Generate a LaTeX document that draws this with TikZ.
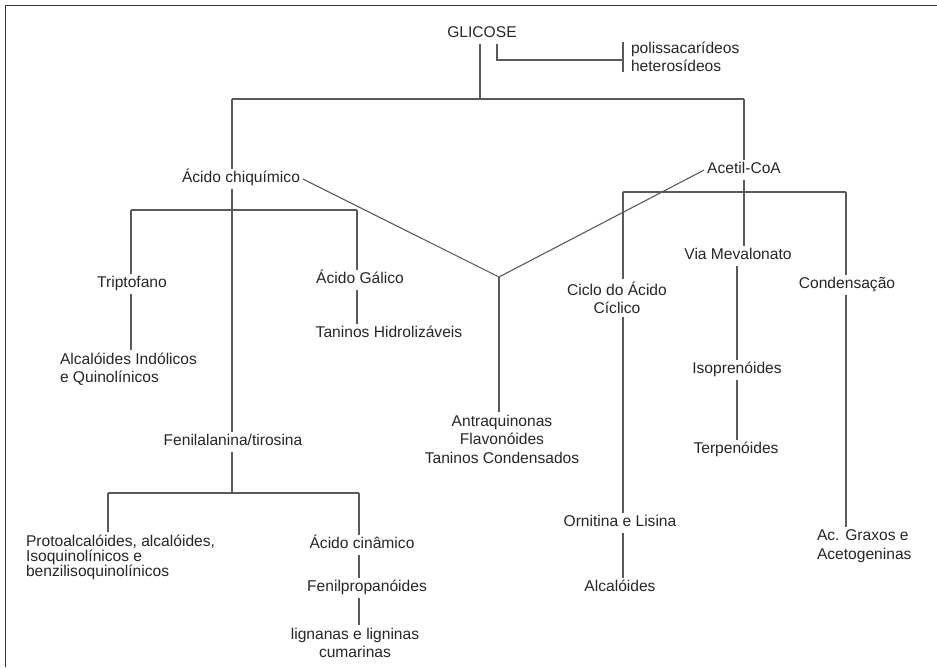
\documentclass[tikz,border=0pt]{standalone}
\usepackage{fontspec}
\setmainfont{Liberation Sans}
\definecolor{txt}{HTML}{262626}
\definecolor{ln}{HTML}{5A5A5A}
\definecolor{frm}{HTML}{3A3A3A}
\begin{document}
\begin{tikzpicture}[x=1pt,y=-1pt,
  lbl/.style={inner sep=0pt, outer sep=3pt, text=txt, yshift=-2pt,
    font=\fontsize{15.6}{18.5}\selectfont, text height=11pt, text depth=3.5pt},
  mlbl/.style={inner sep=0pt, outer sep=3pt, text=txt, yshift=-1pt,
    font=\fontsize{15.6}{18.5}\selectfont},
  conn/.style={draw=ln, line width=1.3pt},
  framel/.style={draw=frm, line width=1.5pt}]
\useasboundingbox (0,0) rectangle (937,667);
\draw[framel] (937,5.5) -- (5.5,5.5) -- (5.5,667);

% nodes
\node[lbl] (glic) at (482,32) {GLICOSE};
\node[mlbl, anchor=west, align=left, outer sep=0pt] (poli) at (631,56) {polissacarídeos\\heterosídeos};
\node[lbl] (chiq) at (241,177) {Ácido chiquímico};
\node[lbl] (acet) at (744,168) {Acetil-CoA};
\node[lbl] (tri) at (132,282) {Triptofano};
\node[mlbl, anchor=west, align=left] (alcind) at (57,368) {Alcalóides Indólicos\\e Quinolínicos};
\node[lbl] (gal) at (360,278) {Ácido Gálico};
\node[lbl] (tanh) at (389,332) {Taninos Hidrolizáveis};
\node[lbl] (fen) at (233,440) {Fenilalanina/tirosina};
\node[mlbl, anchor=west, align=left, font=\fontsize{15.6}{15}\selectfont] (proto) at (23,556) {Protoalcalóides, alcalóides,\\Isoquinolínicos e\\benzilisoquinolínicos};
\node[lbl] (cin) at (362,543) {Ácido cinâmico};
\node[lbl] (fenp) at (367,586) {Fenilpropanóides};
\node[mlbl, align=center] (lig) at (355,642) {lignanas e ligninas\\cumarinas};
\node[mlbl, align=center] (antra) at (502,438) {Antraquinonas\\Flavonóides\\Taninos Condensados};
\node[mlbl, align=center] (ciclo) at (617,297) {Ciclo do Ácido\\Cíclico};
\node[lbl] (orn) at (620,521) {Ornitina e Lisina};
\node[lbl] (alc) at (620,586) {Alcalóides};
\node[lbl] (via) at (738,254) {Via Mevalonato};
\node[lbl] (iso) at (737,368) {Isoprenóides};
\node[lbl] (terp) at (736,448) {Terpenóides};
\node[lbl] (cond) at (847,283) {Condensação};
\node[mlbl, anchor=west, align=left] (graxos) at (814,545) {Ac. Graxos e\\Acetogeninas};

% coordinates
\coordinate (tl) at (232,99);
\coordinate (tr) at (744,99);
\coordinate (gj) at (480,99);
\coordinate (pk) at (497,60);
\coordinate (pb) at ([xshift=-8pt]poli.west);
\coordinate (bl1) at (131,210);
\coordinate (br1) at (357,210);
\coordinate (bj) at (232,493);
\coordinate (bl3) at (108,493);
\coordinate (br3) at (359,493);
\coordinate (vj) at (499,277);
\coordinate (bl2) at (623,192);
\coordinate (br2) at (846,192);

% GLICOSE
\draw[conn] (glic.south -| gj) -- (gj);
\draw[conn] (tl) -- (tr);
\draw[conn] (glic.south -| pk) -- (pk) -- (pk -| pb);
\draw[conn] (pb |- poli.north) -- (pb |- poli.south);

% Acido chiquimico branch
\draw[conn] (tl) -- (chiq.north -| tl);
\draw[conn] (chiq.south -| tl) -- (fen.north -| tl);
\draw[conn] (bl1) -- (br1);
\draw[conn] (bl1) -- (tri.north -| bl1);
\draw[conn] (tri.south -| bl1) -- (alcind.north -| bl1);
\draw[conn] (br1) -- (gal.north -| br1);
\draw[conn] (gal.south -| br1) -- (tanh.north -| br1);
\draw[conn] (fen.south -| bj) -- (bj);
\draw[conn] (bl3) -- (br3);
\draw[conn] (bl3) -- (proto.north -| bl3);
\draw[conn] (br3) -- (cin.north -| br3);
\draw[conn] (cin.south -| br3) -- (fenp.north -| br3);
\draw[conn] (fenp.south -| br3) -- (lig.north -| br3);

% V junction
\draw[conn, line width=1.1pt] (chiq.east) -- (vj) -- (acet.west);
\draw[conn] (vj) -- (antra.north -| vj);

% Acetil-CoA branch
\draw[conn] (tr) -- (acet.north);
\draw[conn] (acet.south) -- (via.north -| tr);
\draw[conn] (bl2) -- (br2);
\draw[conn] (bl2) -- (ciclo.north -| bl2);
\draw[conn] (ciclo.south -| bl2) -- (orn.north -| bl2);
\draw[conn] (orn.south -| bl2) -- (alc.north -| bl2);
\draw[conn] (via.south -| iso.north) -- (iso.north);
\draw[conn] (iso.south) -- (terp.north -| iso.south);
\draw[conn] (br2) -- (cond.north -| br2);
\draw[conn] (cond.south -| br2) -- (graxos.north -| br2);
\end{tikzpicture}
\end{document}
